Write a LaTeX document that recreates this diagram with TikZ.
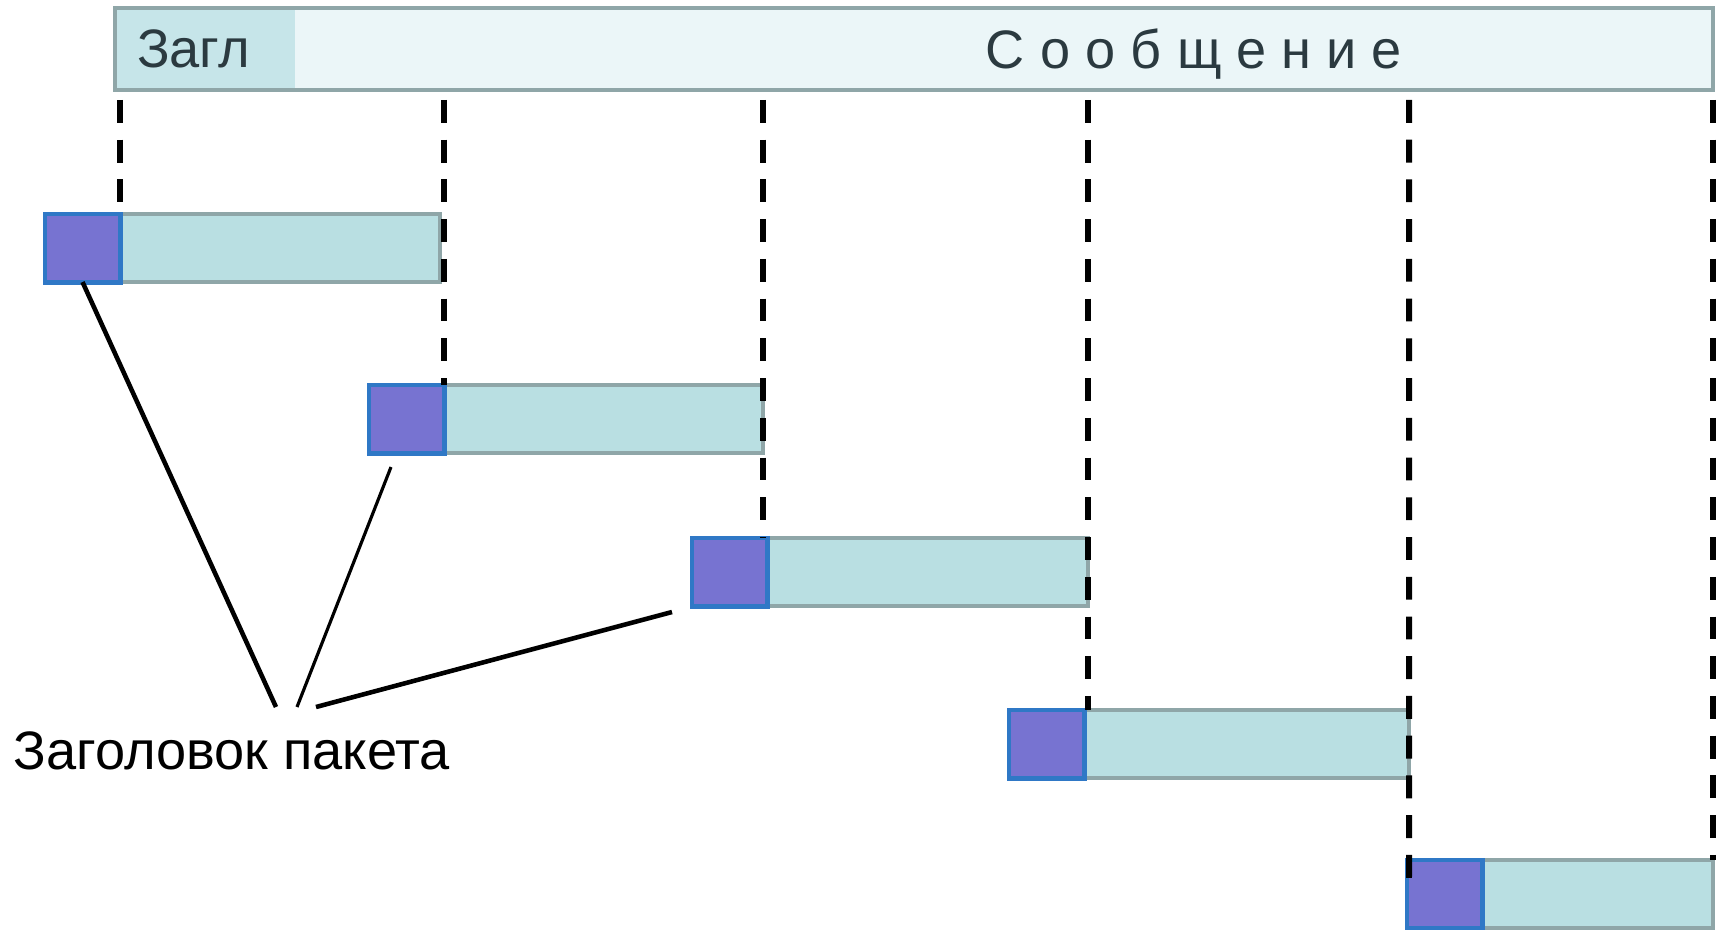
\documentclass[tikz,border=0pt]{standalone}
\usepackage{fontspec}
\setmainfont{Liberation Sans}
\newfontfamily\spacedfont[LetterSpace=28]{Liberation Sans}
\usepackage{xcolor}
\usetikzlibrary{positioning}

\definecolor{barfill}{HTML}{EBF6F8}
\definecolor{zaglfill}{HTML}{C6E5E9}
\definecolor{edgegrey}{HTML}{8FA6A8}
\definecolor{bodyfill}{HTML}{B9DFE2}
\definecolor{headfill}{HTML}{7773D1}
\definecolor{headedge}{HTML}{2F78C6}
\definecolor{textgrey}{HTML}{2B3A40}

\begin{document}
\begin{tikzpicture}[
    x=0.01cm, y=-0.01cm,
    font=\fontsize{15.4}{18}\selectfont,
    bar/.style={rectangle, draw=edgegrey, line width=1.1pt, fill=barfill, inner sep=0, outer sep=0, anchor=north west},
    packet/.style={rectangle, draw=edgegrey, line width=1.1pt, fill=bodyfill, inner sep=0, outer sep=0, anchor=north west, minimum height=0.68cm},
    head/.style={rectangle, draw=headedge, line width=1.4pt, fill=headfill, inner sep=0, outer sep=0, anchor=north west, minimum width=0.75cm, minimum height=0.68cm},
    cut/.style={line width=1.7pt, dash pattern=on 6.5pt off 4.8pt, shorten <=2.8pt},
    leader/.style={line width=1.3pt}
]
\useasboundingbox (0,0) rectangle (1723,929);

% Message
\node[bar, minimum width=15.97cm, minimum height=0.82cm] (msg) at (115,8) {};
\node[anchor=north west, fill=zaglfill, inner sep=0, outer sep=0, minimum width=1.78cm, minimum height=0.78cm,
      text width=1.38cm, inner xsep=0.2cm, align=left, text=textgrey] (zagl) at (117,10) {Загл};
\node[anchor=base, text=textgrey] (msgtext) at (1194,68) {\spacedfont Сообщение};

% Packets
\node[packet, minimum width=3.95cm] (p1) at (45,214) {};
\node[head] (h1) at (p1.north west) {};
\node[packet, minimum width=3.94cm] (p2) at (369,385) {};
\node[head] (h2) at (p2.north west) {};
\node[packet, minimum width=3.96cm] (p3) at (692,538) {};
\node[head] (h3) at (p3.north west) {};
\node[packet, minimum width=4.00cm] (p4) at (1009,710) {};
\node[head] (h4) at (p4.north west) {};
\node[packet, minimum width=3.06cm] (p5) at (1407,860) {};
\node[head] (h5) at (p5.north west) {};

% Cuts
\coordinate (end5) at (1409,885);
\draw[cut] (h1.north east |- msg.south) -- (h1.north east);
\draw[cut] (h2.north east |- msg.south) -- (h2.north east);
\draw[cut] (p2.north east |- msg.south) -- (p2.north east |- p3.north);
\draw[cut] (p3.north east |- msg.south) -- (p3.north east |- p4.north);
\draw[cut] (p4.north east |- msg.south) -- (end5);
\draw[cut] (msg.south east) -- (msg.south east |- p5.north);

% Label
\node[anchor=base west, inner sep=0] (hdrlabel) at (13,769) {Заголовок пакета};
\coordinate (tipA) at (276,707);
\coordinate (tipB) at (297,707);
\coordinate (tipC) at (316,707);
\coordinate (footB) at (391,467);
\coordinate (footC) at (672,612);
\draw[leader] (h1.south) -- (tipA);
\draw[leader, line width=0.9pt] (footB) -- (tipB);
\draw[leader] (footC) -- (tipC);

\end{tikzpicture}
\end{document}
